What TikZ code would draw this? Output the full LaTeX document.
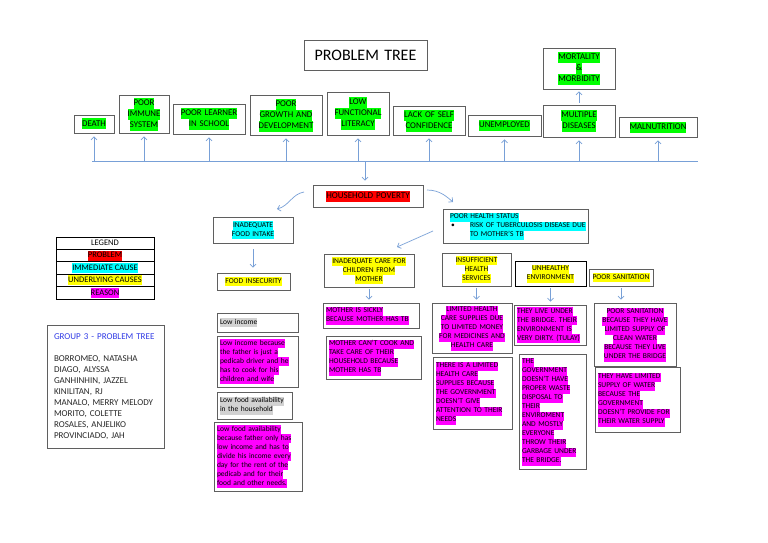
\documentclass[tikz,border=0pt]{standalone}
\usepackage{fontspec}
\setmainfont{Carlito}
\usetikzlibrary{arrows.meta}
\definecolor{bgray}{RGB}{95,95,95}
\definecolor{ablue}{RGB}{120,160,215}
\definecolor{hgreen}{RGB}{0,255,0}
\definecolor{hcyan}{RGB}{0,255,255}
\definecolor{hyellow}{RGB}{255,255,0}
\definecolor{hmag}{RGB}{255,0,255}
\definecolor{hred}{RGB}{255,0,0}
\definecolor{hgray}{RGB}{210,210,210}
\definecolor{gblue}{RGB}{50,60,230}
\definecolor{ntext}{RGB}{40,40,40}
\newcommand\fsz[2]{\fontsize{#1}{#2}\selectfont}
\newcommand\hlbox[2]{{\setlength{\fboxsep}{0pt}\colorbox{#1}{\rule[-0.28\baselineskip]{0pt}{\baselineskip}#2}}}
\newcommand\hlG[1]{\hlbox{hgreen}{#1}}
\newcommand\hlC[1]{\hlbox{hcyan}{#1}}
\newcommand\hlY[1]{\hlbox{hyellow}{#1}}
\newcommand\hlM[1]{\hlbox{hmag}{#1}}
\newcommand\hlR[1]{\hlbox{hred}{#1}}
\newcommand\hlK[1]{\hlbox{hgray}{#1}}
\newcommand\bx[7][]{%
 \pgfmathsetmacro\bxw{#5-#3}\pgfmathsetmacro\bxh{#6-#4}%
 \pgfmathsetmacro\bxt{#5-#3-6}\pgfmathsetmacro\bxx{(#3+#5)/2}\pgfmathsetmacro\bxy{(#4+#6)/2}%
 \node[box,minimum width=\bxw pt,minimum height=\bxh pt,text width=\bxt pt,#1] (#2) at (\bxx,\bxy) {#7};}
\begin{document}
\begin{tikzpicture}[x=1pt,y=-1pt,
 box/.style={draw=bgray,line width=0.9pt,fill=white,inner xsep=3pt,inner ysep=1pt,align=center,font=\fsz{7.5}{9}},
 eff/.style={font=\fsz{8.8}{11}},
 lft/.style={align=left},
 arr/.style={draw=ablue,line width=0.7pt,-{Straight Barb[length=3pt,width=6pt]}},
 leg/.style={draw=black,line width=0.8pt,minimum width=98pt,minimum height=12.4pt,inner sep=0pt,font=\fsz{8.5}{10}}]
\fill[white] (0,0) rectangle (768,543);
\useasboundingbox (0,0) rectangle (768,543);

% effects
\bx[font=\fsz{16}{18}]{title}{304}{40}{427}{70}{PROBLEM TREE}
\bx[eff]{death}{74}{115}{114}{133}{\hlG{DEATH}}
\bx[eff]{immune}{119}{95}{169}{133}{\hlG{POOR}\\\hlG{IMMUNE}\\\hlG{SYSTEM}}
\bx[eff]{learner}{173}{104}{245}{134}{\hlG{POOR LEARNER}\\\hlG{IN SCHOOL}}
\bx[eff]{growth}{250}{95}{322}{135}{\hlG{POOR}\\\hlG{GROWTH AND}\\\hlG{DEVELOPMENT}}
\bx[eff]{literacy}{327}{92}{389}{135}{\hlG{LOW}\\\hlG{FUNCTIONAL}\\\hlG{LITERACY}}
\bx[eff]{lack}{393}{106}{465}{135}{\hlG{LACK OF SELF}\\\hlG{CONFIDENCE}}
\bx[eff]{unemp}{468}{115}{541}{136}{\hlG{UNEMPLOYED}}
\bx[eff]{multi}{543}{105}{615}{137}{\hlG{MULTIPLE}\\\hlG{DISEASES}}
\bx[eff]{mort}{543}{48}{615}{89}{\hlG{MORTALITY}\\\hlG{\&}\\\hlG{MORBIDITY}}
\bx[eff]{maln}{619}{117}{697}{137}{\hlG{MALNUTRITION}}

\coordinate (hl) at (92,161);
\coordinate (hr) at (698,161);
\draw[draw=ablue,line width=0.8pt] (hl) -- (hr);
\foreach \n in {death,immune,learner,growth,literacy,lack,unemp,multi,maln}
  \draw[arr,shorten >=3pt] (\n.south |- hl) -- (\n.south);
\draw[arr,shorten <=2pt,shorten >=2pt] (multi.north) -- (mort.south);

% problem
\bx[font=\fsz{9}{11}]{hp}{313}{185}{423}{207}{\hlR{HOUSEHOLD POVERTY}}
\coordinate (dn) at (365,161);
\draw[arr,shorten >=4pt] (dn) -- (dn |- hp.north);

% immediate causes
\bx{intake}{213}{217}{293}{243}{\hlC{INADEQUATE}\\\hlC{FOOD INTAKE}}
\bx[lft]{health}{443}{209}{588}{243}{\hspace*{4pt}\hlC{POOR HEALTH STATUS}\\\makebox[24pt][l]{\hspace*{5pt}\textbullet}\hlC{RISK OF TUBERCULOSIS DISEASE DUE}\\\hspace*{24pt}\hlC{TO MOTHER'S TB}}

\coordinate (cl1) at (304,192);
\coordinate (cl2) at (277,209);
\draw[arr] (cl1) .. controls (292,194) and (289,206) .. (cl2);
\coordinate (cr1) at (427,190);
\coordinate (cr2) at (453,202);
\draw[arr] (cr1) .. controls (440,190) and (447,197) .. (cr2);

% underlying causes
\bx{insec}{217}{273}{290}{290}{\hlY{FOOD INSECURITY}}
\bx{care}{324}{254}{414}{287}{\hlY{INADEQUATE CARE FOR}\\\hlY{CHILDREN FROM}\\\hlY{MOTHER}}
\bx{insuf}{442}{253}{511}{286}{\hlY{INSUFFICIENT}\\\hlY{HEALTH}\\\hlY{SERVICES}}
\bx[draw=black]{unhealthy}{515}{261}{586}{286}{\hlY{UNHEALTHY}\\\hlY{ENVIRONMENT}}
\bx{sanit}{589}{269}{653}{286}{\hlY{POOR SANITATION}}

\draw[arr,shorten <=6pt,shorten >=5pt] (intake.south) -- (intake.south |- insec.north);
\coordinate (ph1) at (433,231);
\coordinate (ph2) at (397,247);
\draw[arr] (ph1) -- (ph2);

% reasons
\bx[lft]{lowinc}{217}{313}{298}{332}{\hlK{Low income}}
\bx[lft]{lowincb}{217}{336}{298}{387}{\hlM{Low income because}\\\hlM{the father is just a}\\\hlM{pedicab driver and he}\\\hlM{has to cook for his}\\\hlM{children and wife}}
\bx[lft]{lowfood}{217}{392}{292}{419}{\hlK{Low food availability}\\\hlK{in the household}}
\bx[lft]{lowfoodb}{214}{422}{302}{491}{\hlM{Low food availability}\\\hlM{because father only has}\\\hlM{low income and has to}\\\hlM{divide his income every}\\\hlM{day for the rent of the}\\\hlM{pedicab and for their}\\\hlM{food and other needs.}}
\bx[lft]{sickly}{323}{303}{419}{328}{\hlM{MOTHER IS SICKLY}\\\hlM{BECAUSE MOTHER HAS TB}}
\bx[lft]{cook}{326}{336}{421}{379}{\hlM{MOTHER CAN'T COOK AND}\\\hlM{TAKE CARE OF THEIR}\\\hlM{HOUSEHOLD BECAUSE}\\\hlM{MOTHER HAS TB}}
\bx{limited}{432}{303}{512}{353}{\hlM{LIMITED HEALTH}\\\hlM{CARE SUPPLIES DUE}\\\hlM{TO LIMITED MONEY}\\\hlM{FOR MEDICINES AND}\\\hlM{HEALTH CARE}}
\bx[lft]{thereis}{433}{357}{512}{429}{\hlM{THERE IS A LIMITED}\\\hlM{HEALTH CARE}\\\hlM{SUPPLIES BECAUSE}\\\hlM{THE GOVERNMENT}\\\hlM{DOESN'T GIVE}\\\hlM{ATTENTION TO THEIR}\\\hlM{NEEDS}}
\bx[lft]{bridge}{514}{305}{586}{345}{\hlM{THEY LIVE UNDER}\\\hlM{THE BRIDGE. THEIR}\\\hlM{ENVIRONMENT IS}\\\hlM{VERY DIRTY. (TULAY)}}
\bx[lft]{govt}{519}{354}{586}{469}{\hlM{THE}\\\hlM{GOVERNMENT}\\\hlM{DOESN'T HAVE}\\\hlM{PROPER WASTE}\\\hlM{DISPOSAL TO}\\\hlM{THEIR}\\\hlM{ENVIROMENT}\\\hlM{AND MOSTLY}\\\hlM{EVERYONE}\\\hlM{THROW THEIR}\\\hlM{GARBAGE UNDER}\\\hlM{THE BRIDGE.}}
\bx{sanitb}{594}{303}{676}{366}{\hlM{POOR SANITATION}\\\hlM{BECAUSE THEY HAVE}\\\hlM{LIMITED SUPPLY OF}\\\hlM{CLEAN WATER}\\\hlM{BECAUSE THEY LIVE}\\\hlM{UNDER THE BRIDGE}}
\bx[lft]{water}{595}{367}{680}{432}{\hlM{THEY HAVE LIMITED}\\\hlM{SUPPLY OF WATER}\\\hlM{BECAUSE THE}\\\hlM{GOVERNMENT}\\\hlM{DOESN'T PROVIDE FOR}\\\hlM{THEIR WATER SUPPLY}}

\foreach \a/\b in {care/sickly,insuf/limited,unhealthy/bridge,sanit/sanitb}
  \draw[arr,shorten <=2pt,shorten >=3pt] (\a.south) -- (\a.south |- \b.north);

% legend
\node[leg] (lg0) at (105,243.2) {LEGEND};
\node[leg] (lg1) at (105,255.6) {\hlR{PROBLEM}};
\node[leg] (lg2) at (105,268.0) {\hlC{IMMEDIATE CAUSE}};
\node[leg] (lg3) at (105,280.4) {\hlY{UNDERLYING CAUSES}};
\node[leg] (lg4) at (105,292.8) {\hlM{REASON}};

% group
\bx[lft,font=\fsz{9}{11},inner xsep=7pt,text width=103pt]{group}{47}{325}{164}{448}{\textcolor{gblue}{GROUP 3 - PROBLEM TREE}\\[11pt]\textcolor{ntext}{BORROMEO, NATASHA}\\\textcolor{ntext}{DIAGO, ALYSSA}\\\textcolor{ntext}{GANHINHIN, JAZZEL}\\\textcolor{ntext}{KINILITAN, RJ}\\\textcolor{ntext}{MANALO, MERRY MELODY}\\\textcolor{ntext}{MORITO, COLETTE}\\\textcolor{ntext}{ROSALES, ANJELIKO}\\\textcolor{ntext}{PROVINCIADO, JAH}}
\end{tikzpicture}
\end{document}
